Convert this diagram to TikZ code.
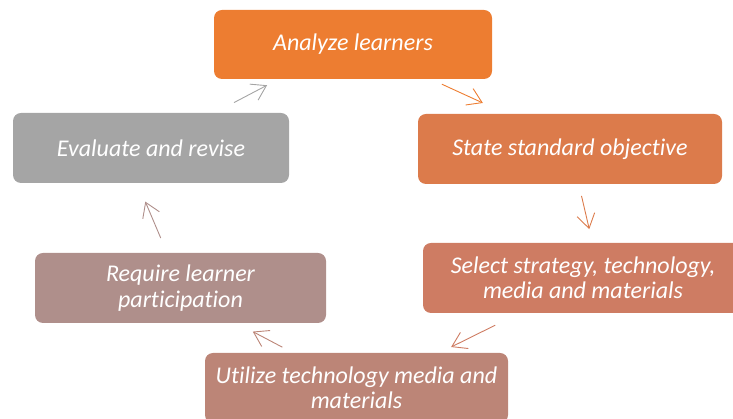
\documentclass[tikz,border=0pt]{standalone}
\usepackage{fontspec}
\setmainfont{Carlito}[Ligatures=NoCommon]
\usepackage{xcolor}
\definecolor{analyze}{HTML}{ED7D31}
\definecolor{state}{HTML}{DC7B4B}
\definecolor{select}{HTML}{CE7C63}
\definecolor{utilize}{HTML}{BC8577}
\definecolor{require}{HTML}{AF8F8B}
\definecolor{evaluate}{HTML}{A5A5A5}
\usetikzlibrary{arrows.meta}

\begin{document}
\begin{tikzpicture}[x=1pt, y=1pt,
    stage/.style={rectangle, rounded corners=8pt, align=center, text=white,
                  font=\fontsize{24}{25.5}\selectfont\itshape, inner sep=4pt,
                  minimum height=70pt},
    a/.style={-{Straight Barb[length=14pt, width=18pt]}, line width=0.9pt}]
  \useasboundingbox (0,0) rectangle (733,419);
  % the six stages, clockwise from the top
  \node[stage, fill=analyze, minimum width=278pt, minimum height=69pt] (an) at (353,374.5) {Analyze learners};
  \node[stage, fill=state, minimum width=304pt] (st) at (570,270) {State standard objective};
  \node[stage, fill=select, minimum width=320pt] (sel) at (583,141) {Select strategy, technology,\\media and materials};
  \node[stage, fill=utilize, minimum width=303pt] (ut) at (356.5,31) {Utilize technology media and\\materials};
  \node[stage, fill=require, minimum width=291pt] (re) at (180.5,131) {Require learner\\participation};
  \node[stage, fill=evaluate, minimum width=276pt] (ev) at (151,271) {Evaluate and revise};
  % short arrows between the stages
  \draw[a, draw=evaluate, shorten <=22pt, shorten >=13pt] (ev.29) -- (an.205);
  \draw[a, draw=analyze, shorten <=12pt, shorten >=26pt] (an.336) -- (st.151);
  \draw[a, draw=state, shorten <=12pt, shorten >=14pt] (st.284) -- (sel.75);
  \draw[a, draw=select, shorten <=27pt, shorten >=13pt] (sel.209) -- (ut.23);
  \draw[a, draw=utilize, shorten <=12pt, shorten >=18pt] (ut.151.5) -- (re.328);
  \draw[a, draw=require, shorten <=16pt, shorten >=20pt] (re.111) -- (ev.249);
\end{tikzpicture}
\end{document}
